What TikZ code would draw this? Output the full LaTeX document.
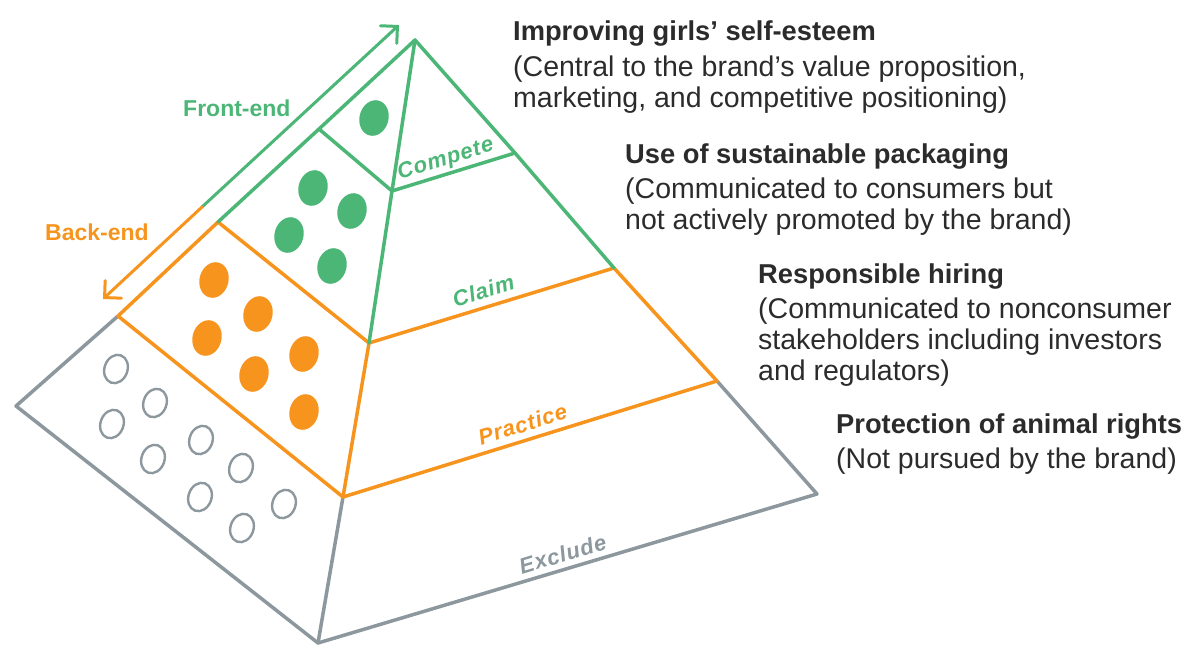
\documentclass[tikz,border=0pt]{standalone}
\usepackage{fontspec}
\setmainfont{Liberation Sans}
\usetikzlibrary{arrows.meta}

\definecolor{pgreen}{HTML}{4CB677}
\definecolor{porange}{HTML}{F7941E}
\definecolor{pgray}{HTML}{8C979E}
\definecolor{ink}{HTML}{2B2B2B}

\begin{document}
\begin{tikzpicture}[x=1pt,y=-1pt,
  edge/.style={line width=3.5pt, line cap=round, line join=round},
  gline/.style={edge, draw=pgreen},
  oline/.style={edge, draw=porange},
  kline/.style={edge, draw=pgray},
  arrowline/.style={line width=3pt, line cap=round, line join=round,
    -{Straight Barb[length=12pt, width=24pt, line cap=round]}},
  fulldot/.style={fill=#1},
  opendot/.style={draw=pgray, line width=2.4pt},
  head/.style={anchor=base west, inner sep=0pt, text=ink,
    font=\fontsize{27.3}{30}\selectfont\bfseries},
  body/.style={anchor=base west, inner sep=0pt, text=ink,
    font=\fontsize{28.5}{31}\selectfont},
  tier/.style={sloped, anchor=base, yshift=8.5pt, inner sep=0pt,
    font=\fontsize{22}{24}\selectfont\bfseries\itshape\addfontfeature{LetterSpace=4}},
  side/.style={anchor=base west, inner sep=0pt,
    font=\fontsize{23}{25}\selectfont\bfseries},
]
\useasboundingbox (0,0) rectangle (1201,645);

% corners of the pyramid
\coordinate (A) at (415,40);
\coordinate (L) at (16,406);
\coordinate (F) at (318,643);
\coordinate (R) at (817,494);
% tier boundaries on the left edge
\coordinate (C1) at (319,129);
\coordinate (C2) at (218,222);
\coordinate (C3) at (118,316);
% tier boundaries on the front edge
\coordinate (F1) at (392,191);
\coordinate (F2) at (369,343);
\coordinate (F3) at (343,497);
% tier boundaries on the right edge
\coordinate (R1) at (515,153);
\coordinate (R2) at (614,268);
\coordinate (R3) at (717,381);

% Exclude tier (base)
\draw[kline] (C3) -- (L) -- (F) -- (R) -- (R3);
\draw[kline] (F3) -- (F);
% Practice tier
\draw[oline] (C2) -- (C3) -- (F3) -- (R3) -- (R2);
\draw[oline] (F2) -- (F3);
% Claim tier
\draw[oline] (C2) -- (F2) -- (R2);
% Claim and Compete tiers (green outline)
\draw[gline] (C2) -- (C1) -- (A) -- (R1) -- (R2);
\draw[gline] (A) -- (F1) -- (F2);
\draw[gline] (C1) -- (F1) -- (R1);

% tier names
\path (F1) -- (R1) node[tier, pos=0.47, text=pgreen] (lcompete) {Compete};
\path (F2) -- (R2) node[tier, pos=0.486, text=pgreen] (lclaim) {Claim};
\path (F3) -- (R3) node[tier, pos=0.493, text=porange] (lpractice) {Practice};
\path (F) -- (R) node[tier, pos=0.499, yshift=-1pt, text=pgray] (lexclude) {Exclude};

% front-end / back-end arrow
\coordinate (up) at (399,25);
\coordinate (split) at (202,207);
\coordinate (down) at (103,299);
\draw[arrowline, pgreen] (split) -- (up);
\draw[arrowline, porange] (split) -- (down);
\node[side, text=pgreen] (front) at (183,116) {Front-end};
\node[side, text=porange] (back) at (45,240) {Back-end};

% Compete issues
\fill[fulldot=pgreen, rotate around={-15:(374,118)}] (374,118) ellipse [x radius=14.5pt, y radius=18pt];
% Claim issues
\foreach \p in {(313,188),(352,211),(289,235),(332,266)}
  \fill[fulldot=pgreen, rotate around={-15:\p}] \p ellipse [x radius=14.5pt, y radius=18pt];
% Practice issues
\foreach \p in {(214,280),(258,314),(207,338),(304,354),(254,374),(304,412)}
  \fill[fulldot=porange, rotate around={-15:\p}] \p ellipse [x radius=14.5pt, y radius=18pt];
% Excluded issues
\foreach \p in {(116,369),(155,403),(112,424),(201,440),(153,459),(241,468),(200,497),(284,504),(242,528)}
  \draw[opendot, rotate around={-20:\p}] \p ellipse [x radius=11.5pt, y radius=14.5pt];

% descriptions
\node[head] (h1) at (513,40) {Improving girls’ self-esteem};
\node[body] (b1a) at (513,76) {(Central to the brand’s value proposition,};
\node[body] (b1b) at (513,107) {marketing, and competitive positioning)};

\node[head] (h2) at (625,163) {Use of sustainable packaging};
\node[body] (b2a) at (625,198) {(Communicated to consumers but};
\node[body] (b2b) at (625,229) {not actively promoted by the brand)};

\node[head] (h3) at (758,283) {Responsible hiring};
\node[body] (b3a) at (758,318) {(Communicated to nonconsumer};
\node[body] (b3b) at (758,349) {stakeholders including investors};
\node[body] (b3c) at (758,380) {and regulators)};

\node[head] (h4) at (836,433) {Protection of animal rights};
\node[body] (b4a) at (836,468) {(Not pursued by the brand)};
\end{tikzpicture}
\end{document}
